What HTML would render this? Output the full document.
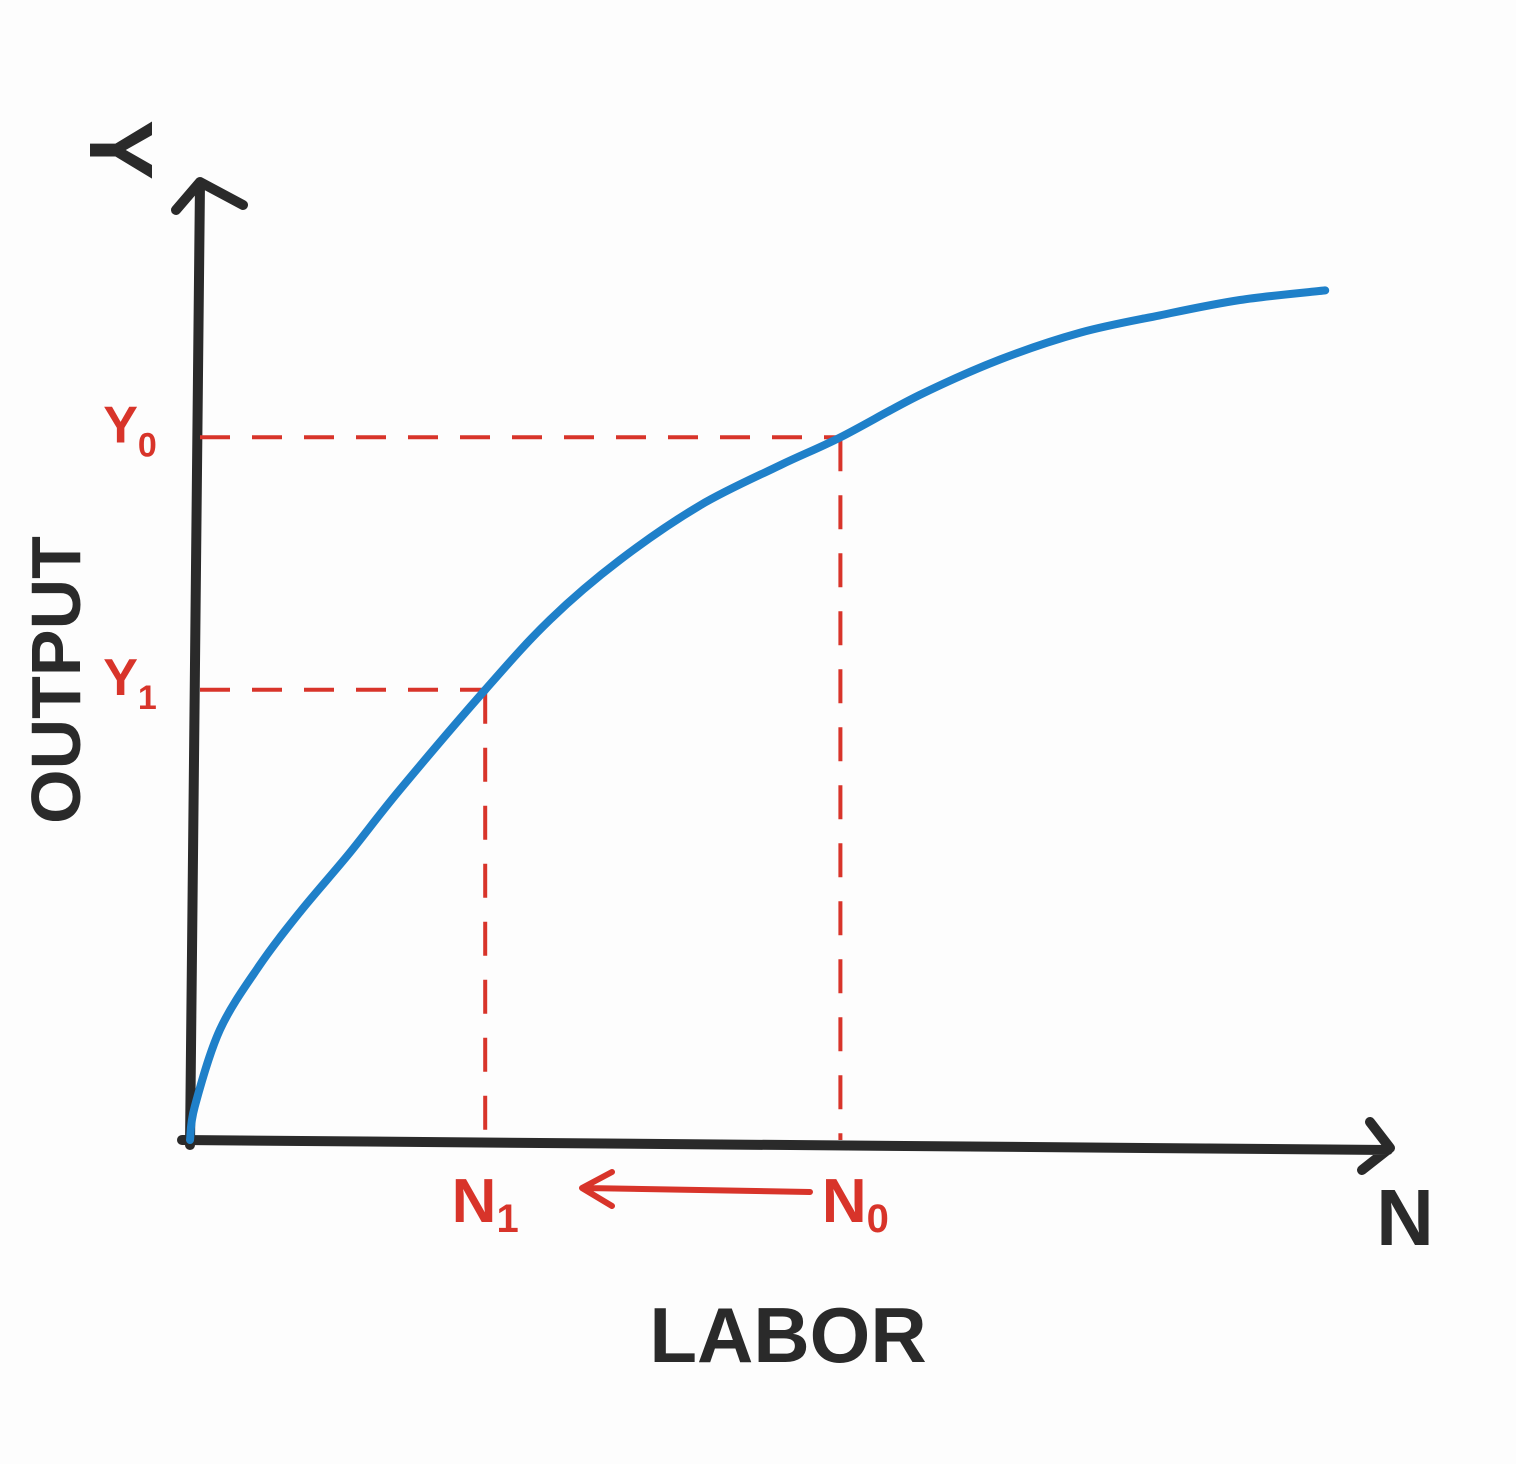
<!DOCTYPE html>
<html>
<head>
<meta charset="utf-8">
<style>
  html,body{margin:0;padding:0;background:#fdfdfd;}
  svg{display:block;}
  .lbl{font-family:"Liberation Sans",sans-serif;font-weight:bold;}
</style>
</head>
<body>
<svg id="chart" width="1516" height="1464" viewBox="0 0 1516 1464" xmlns="http://www.w3.org/2000/svg">
  <rect x="0" y="0" width="1516" height="1464" fill="#fdfdfd"/>
  <g id="axes"></g>
  <g id="guides"></g>
  <g id="series"></g>
  <g id="labels"></g>
</svg>
<script>
// Data (labor units 0..100, output units 0..100)
const laborValues  = [0, 0.4, 2.5, 5.8, 9.2, 13.3, 17.5, 24.6, 30, 35.8, 42.5, 49.2, 54.2, 60.8, 67.5, 74.2, 80.8, 87.5, 94.6];
const outputValues = [0, 3.5, 11.5, 18.2, 23.8, 29.9, 36.5, 46.9, 54.2, 60.4, 66.1, 70.3, 73.2, 77.6, 81.3, 84.1, 85.9, 87.5, 88.5];
const markLabels = ["N1", "N0"];
const markLabor  = [24.6, 54.2];
const markOutput = [46.9, 73.2];
const yMarkLabels = ["Y1", "Y0"];

const X0 = 190, X1 = 1390, Y0px = 1140, Y1px = 180;
function xScale(n){ return X0 + n * (X1 - X0) / 100; }
function yScale(v){ return Y0px - v * (Y0px - Y1px) / 100; }

const NS = "http://www.w3.org/2000/svg";
function mk(tag, attrs, parent){
  const el = document.createElementNS(NS, tag);
  for (const k in attrs) el.setAttribute(k, attrs[k]);
  parent.appendChild(el);
  return el;
}
const axes = document.getElementById('axes');
const guides = document.getElementById('guides');
const series = document.getElementById('series');
const labels = document.getElementById('labels');
const BLACK = "#2a2a2a", RED = "#d8342a", BLUE = "#1f80c9";

let ya = mk('path', {d:"M190 1145 L200 182 M176 210 L200 182 L243 205", stroke:BLACK, 'stroke-width':10, fill:'none', 'stroke-linecap':'round','stroke-linejoin':'round'}, axes);


let xa = mk('path', {d:"M182 1140 L1388 1150 M1370 1122 L1390 1148 L1362 1170", stroke:BLACK, 'stroke-width':10, fill:'none', 'stroke-linecap':'round','stroke-linejoin':'round'}, axes);



for (let i = 0; i < markLabor.length; i++){
  const gx = xScale(markLabor[i]), gy = yScale(markOutput[i]);
  let h = mk('line', {x1:200, y1:gy, x2:gx, y2:gy, stroke:RED, 'stroke-width':4, 'stroke-dasharray':'30 22'}, guides);
  
  
  let v = mk('line', {x1:gx, y1:gy, x2:gx, y2:1140, stroke:RED, 'stroke-width':4, 'stroke-dasharray':'34 24'}, guides);
  
  
}

// Smooth curve (Catmull-Rom)
const pts = laborValues.map((n, i) => [xScale(n), yScale(outputValues[i])]);
let d = "M" + pts[0][0] + " " + pts[0][1];
for (let i = 0; i < pts.length - 1; i++){
  const p0 = pts[Math.max(0, i-1)], p1 = pts[i], p2 = pts[i+1], p3 = pts[Math.min(pts.length-1, i+2)];
  const c1x = p1[0] + (p2[0]-p0[0])/6, c1y = p1[1] + (p2[1]-p0[1])/6;
  const c2x = p2[0] - (p3[0]-p1[0])/6, c2y = p2[1] - (p3[1]-p1[1])/6;
  d += " C" + c1x.toFixed(1) + " " + c1y.toFixed(1) + " " + c2x.toFixed(1) + " " + c2y.toFixed(1) + " " + p2[0].toFixed(1) + " " + p2[1].toFixed(1);
}
let curve = mk('path', {d:d, stroke:BLUE, 'stroke-width':8, fill:'none', 'stroke-linecap':'round','stroke-linejoin':'round'}, series);



function txt(s, x, y, size, color, name, rot){
  const t = mk('text', {x:x, y:y, 'font-size':size, fill:color, class:'lbl', 'text-anchor':'middle'}, labels);
  if (rot) t.setAttribute('transform', 'rotate(' + rot + ' ' + x + ' ' + y + ')');
  t.textContent = s;
  
  
  return t;
}
txt("Y", 90, 150, 90, BLACK, 'y-axis-symbol', 90);
txt("OUTPUT", 80, 680, 70, BLACK, 'y-axis-title', -90);
txt("LABOR", 788, 1362, 78, BLACK, 'x-axis-title');
txt("N", 1405, 1245, 80, BLACK, 'x-axis-symbol');
for (let i = 0; i < markLabels.length; i++){
  const t = txt(markLabels[i][0], xScale(markLabor[i]) + (i ? 15 : 0), 1222, 62, RED, 'x-mark-label-' + markLabels[i].toLowerCase());
  const s = mk('tspan', {'font-size':40, dy:10}, t);
  s.textContent = markLabels[i][1];
  const yl = txt(yMarkLabels[i][0], 130, yScale(markOutput[i]) + 5, 52, RED, 'y-mark-label-' + yMarkLabels[i].toLowerCase());
  const s2 = mk('tspan', {'font-size':34, dy:14}, yl);
  s2.textContent = yMarkLabels[i][1];
}
let arr = mk('path', {d:"M810 1192 L585 1188 M612 1172 L582 1188 L612 1206", stroke:RED, 'stroke-width':6, fill:'none','stroke-linecap':'round','stroke-linejoin':'round'}, labels);


</script>
</body>
</html>
